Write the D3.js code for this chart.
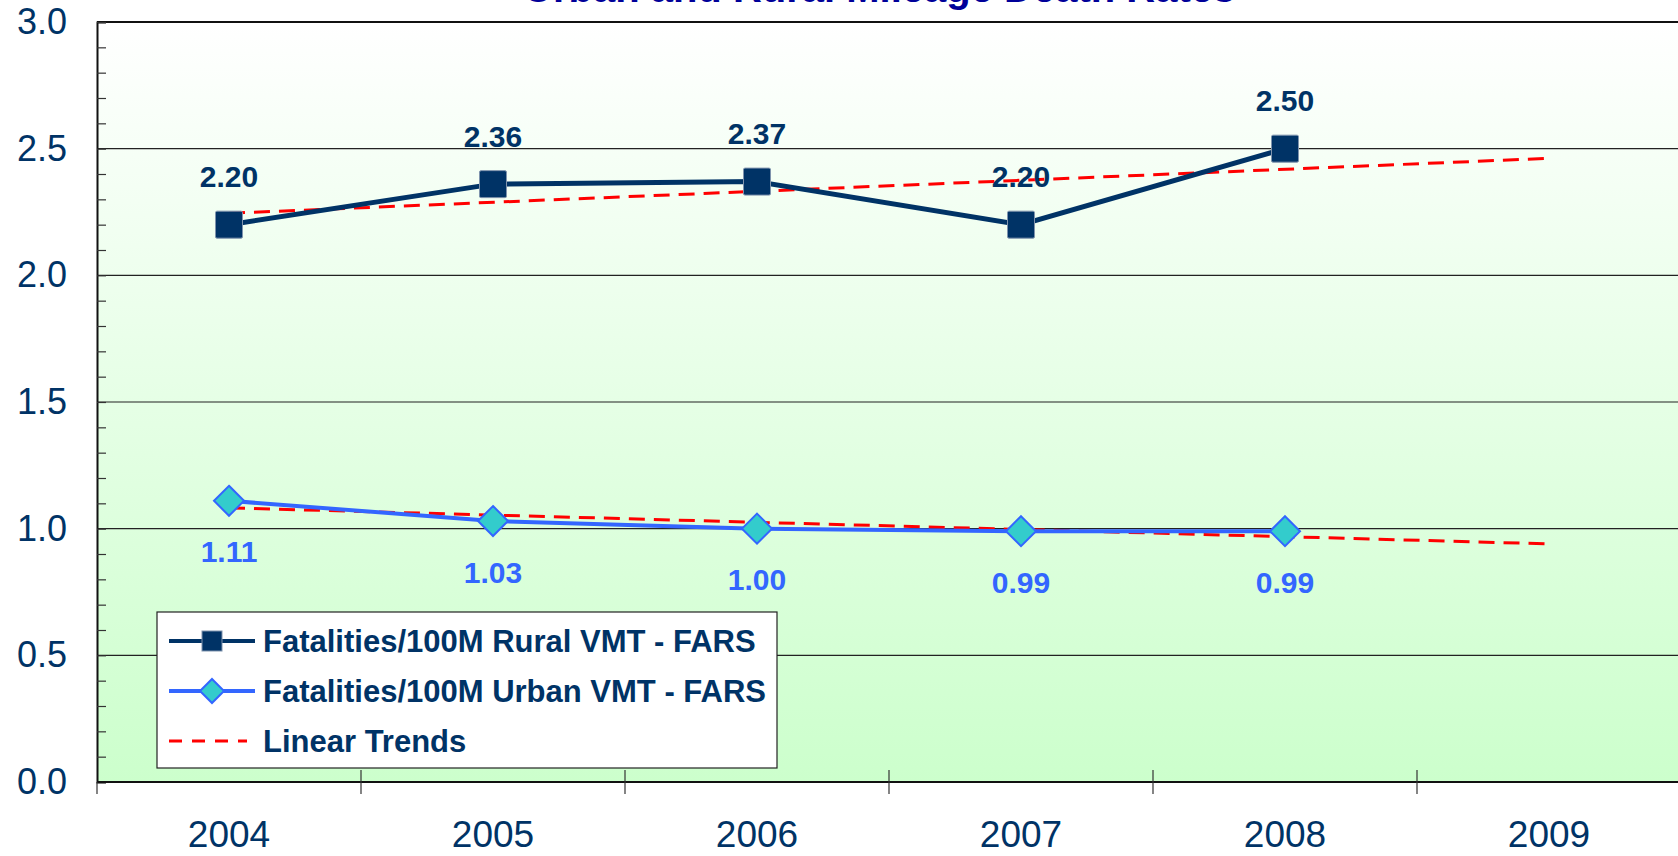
<!DOCTYPE html>
<html>
<head>
<meta charset="utf-8">
<script src="https://cdn.jsdelivr.net/npm/d3@7/dist/d3.min.js"></script>
<style>
  html, body { margin: 0; padding: 0; background: #ffffff; }
  svg { display: block; font-family: "Liberation Sans", Arial, sans-serif; }
</style>
</head>
<body>
<svg id="chart" width="1678" height="856"></svg>
<script>
// ---- data ----
const years = ["2004", "2005", "2006", "2007", "2008", "2009"];
const ruralYears = ["2004", "2005", "2006", "2007", "2008"];
const ruralValues = [2.20, 2.36, 2.37, 2.20, 2.50];
const urbanValues = [1.11, 1.03, 1.00, 0.99, 0.99];
const trendYears = ["2004", "2009"];
const ruralTrend = [2.245, 2.462];
const urbanTrend = [1.082, 0.940];
const yTicks = [0.0, 0.5, 1.0, 1.5, 2.0, 2.5, 3.0];
const seriesNames = ["Fatalities/100M Rural VMT - FARS", "Fatalities/100M Urban VMT - FARS", "Linear Trends"];
const titleText = "Urban and Rural Mileage Death Rates";

// ---- layout ----
const pLeft = 97, pRight = 1681, pTop = 22, pBottom = 782;
const navy = "#003366", blue = "#3366ff", teal = "#33cccc", red = "#ff0000";

const svg = d3.select("#chart");
const x = d3.scaleBand().domain(years).range([pLeft, pRight]);
const xc = d => x(d) + x.bandwidth() / 2;
const y = d3.scaleLinear().domain([0, 3]).range([pBottom, pTop]);

// background gradient
const defs = svg.append("defs");
const grad = defs.append("linearGradient").attr("id", "bg").attr("x1", 0).attr("y1", 0).attr("x2", 0).attr("y2", 1);
grad.append("stop").attr("offset", "0%").attr("stop-color", "#ffffff");
grad.append("stop").attr("offset", "100%").attr("stop-color", "#ccffcc");
svg.append("rect").attr("x", pLeft).attr("y", pTop).attr("width", pRight - pLeft).attr("height", pBottom - pTop)
  .attr("fill", "url(#bg)");

// title (mostly cut off at top, as in the original)
svg.append("text").attr("x", 524).attr("y", 1.5).attr("font-size", 40).attr("font-weight", "bold")
  .attr("fill", "#000099").text(titleText);

// gridlines
svg.append("g").selectAll("line").data(yTicks.filter(v => v > 0)).join("line")
  .attr("x1", pLeft).attr("x2", pRight).attr("y1", d => y(d)).attr("y2", d => y(d))
  .attr("stroke", d => d === 3 ? "#111" : "#222").attr("stroke-width", d => d === 3 ? 2 : 1.2);

// y axis with minor ticks pointing inward
const minor = d3.range(0, 31).map(i => i / 10);
const yAxis = d3.axisRight(y).tickValues(minor).tickSize(9).tickFormat("");
const gy = svg.append("g").attr("transform", `translate(${pLeft},0)`).call(yAxis);
gy.select(".domain").attr("stroke", "#111").attr("stroke-width", 2);
gy.selectAll(".tick line").attr("stroke", "#333").attr("stroke-width", 1.2);

// y labels
const yLab = d3.axisLeft(y).tickValues(yTicks).tickSize(0).tickPadding(30).tickFormat(d3.format(".1f"));
const gyl = svg.append("g").attr("transform", `translate(${pLeft},0)`).call(yLab);
gyl.select(".domain").remove();
gyl.selectAll("text").attr("font-size", 36).attr("fill", navy)
  .attr("font-family", "'Liberation Sans', Arial, sans-serif");

// x axis
const bounds = years.map(d => x(d)).concat([pRight]);
const gx = svg.append("g");
gx.append("line").attr("x1", pLeft).attr("x2", pRight).attr("y1", pBottom).attr("y2", pBottom)
  .attr("stroke", "#111").attr("stroke-width", 2);
gx.selectAll("line.tk").data(bounds).join("line").attr("class", "tk")
  .attr("x1", d => d).attr("x2", d => d)
  .attr("y1", (d, i) => i === 0 ? pBottom : pBottom - 12).attr("y2", pBottom + 12)
  .attr("stroke", "#333").attr("stroke-width", 1.2);
const xAxis = d3.axisBottom(x).tickSize(0).tickPadding(39);
const gxl = svg.append("g").attr("transform", `translate(0,${pBottom})`).call(xAxis);
gxl.select(".domain").remove();
gxl.selectAll("text").attr("font-size", 37).attr("fill", navy)
  .attr("font-family", "'Liberation Sans', Arial, sans-serif");

// trend lines
const line = d3.line().x(d => xc(d[0])).y(d => y(d[1]));
[ruralTrend, urbanTrend].forEach(t => {
  svg.append("path").datum(trendYears.map((yr, i) => [yr, t[i]]))
    .attr("d", line).attr("fill", "none").attr("stroke", red).attr("stroke-width", 3)
    .attr("stroke-dasharray", "16,9");
});

// rural series
const ruralData = ruralYears.map((yr, i) => [yr, ruralValues[i]]);
svg.append("path").datum(ruralData).attr("d", line).attr("fill", "none")
  .attr("stroke", navy).attr("stroke-width", 5);
svg.append("g").selectAll("rect").data(ruralData).join("rect")
  .attr("x", d => xc(d[0]) - 13.5).attr("y", d => y(d[1]) - 13.5)
  .attr("width", 27).attr("height", 27).attr("rx", 1.5)
  .attr("fill", navy).attr("stroke", "#7f93ad").attr("stroke-width", 1);
svg.append("g").selectAll("text").data(ruralData).join("text")
  .attr("x", d => xc(d[0])).attr("y", d => y(d[1]) - 48)
  .attr("text-anchor", "middle").attr("dominant-baseline", "central")
  .attr("font-size", 30).attr("font-weight", "bold").attr("fill", navy)
  .text(d => d[1].toFixed(2));

// urban series
const urbanData = ruralYears.map((yr, i) => [yr, urbanValues[i]]);
svg.append("path").datum(urbanData).attr("d", line).attr("fill", "none")
  .attr("stroke", blue).attr("stroke-width", 4);
const diamond = (cx, cy, r) => `M${cx},${cy - r}L${cx + r},${cy}L${cx},${cy + r}L${cx - r},${cy}Z`;
svg.append("g").selectAll("path").data(urbanData).join("path")
  .attr("d", d => diamond(xc(d[0]), y(d[1]), 15))
  .attr("fill", teal).attr("stroke", blue).attr("stroke-width", 2);
svg.append("g").selectAll("text").data(urbanData).join("text")
  .attr("x", d => xc(d[0])).attr("y", d => y(d[1]) + 51)
  .attr("text-anchor", "middle").attr("dominant-baseline", "central")
  .attr("font-size", 30).attr("font-weight", "bold").attr("fill", blue)
  .text(d => d[1].toFixed(2));

// legend
const lg = svg.append("g");
lg.append("rect").attr("x", 157).attr("y", 612).attr("width", 620).attr("height", 156)
  .attr("fill", "#ffffff").attr("stroke", "#222").attr("stroke-width", 1.2);
const rowsY = [641, 691, 741];
const sx1 = 169, sx2 = 255, smid = 212, tx = 263;
// row 1
lg.append("line").attr("x1", sx1).attr("x2", sx2).attr("y1", rowsY[0]).attr("y2", rowsY[0])
  .attr("stroke", navy).attr("stroke-width", 4);
lg.append("rect").attr("x", smid - 10).attr("y", rowsY[0] - 10).attr("width", 20).attr("height", 20)
  .attr("fill", navy).attr("stroke", "#7f93ad").attr("stroke-width", 1);
// row 2
lg.append("line").attr("x1", sx1).attr("x2", sx2).attr("y1", rowsY[1]).attr("y2", rowsY[1])
  .attr("stroke", blue).attr("stroke-width", 4);
lg.append("path").attr("d", diamond(smid, rowsY[1], 12)).attr("fill", teal)
  .attr("stroke", blue).attr("stroke-width", 2);
// row 3
lg.append("line").attr("x1", sx1).attr("x2", sx2 - 8).attr("y1", rowsY[2]).attr("y2", rowsY[2])
  .attr("stroke", red).attr("stroke-width", 3).attr("stroke-dasharray", "13,10");
lg.selectAll("text").data(seriesNames).join("text")
  .attr("x", tx).attr("y", (d, i) => rowsY[i]).attr("dominant-baseline", "central")
  .attr("font-size", 31).attr("font-weight", "bold").attr("fill", navy)
  .text(d => d);
</script>
</body>
</html>
